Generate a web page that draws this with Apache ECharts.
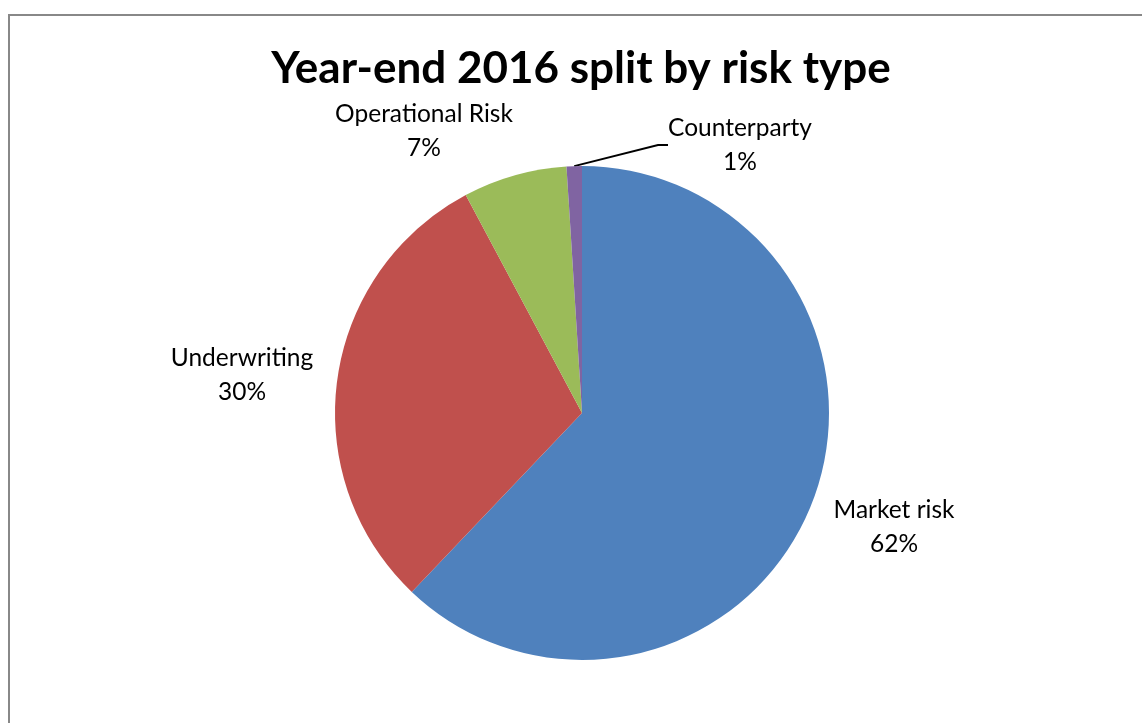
<!DOCTYPE html>
<html>
<head>
<meta charset="utf-8">
<title>Year-end 2016 split by risk type</title>
<script src="https://cdn.jsdelivr.net/npm/echarts@6/dist/echarts.min.js"></script>
<style>
  html, body { margin: 0; padding: 0; background: #fff; }
  #chart { width: 1142px; height: 723px; }
</style>
</head>
<body>
<div id="chart"></div>
<script>
// Risk categories, clockwise from 12 o'clock
const categories = ['Market risk', 'Underwriting', 'Operational Risk', 'Counterparty'];
// Share of the year-end 2016 total, in percent
const shares = [62.1, 30.1, 6.8, 1.0];
const sliceColors = ['#4F81BD', '#C0504D', '#9BBB59', '#8064A2'];
const chartTitle = 'Year-end 2016 split by risk type';

// Where each label block sits (centre of the two-line text)
const labelSpots = [
  { x: 894, y: 527 },
  { x: 242, y: 375 },
  { x: 424, y: 131 },
  { x: 740, y: 145 }
];

const FONT = 'Lato, "Open Sans", sans-serif';

const chart = echarts.init(document.getElementById('chart'), null, { renderer: 'canvas' });

chart.setOption({
  backgroundColor: '#ffffff',
  animation: false,
  title: {
    text: chartTitle,
    left: 576,
    top: 42,
    textAlign: 'center',
    textStyle: {
      fontFamily: FONT,
      fontWeight: 'bold',
      fontSize: 44,
      color: '#000000'
    }
  },
  graphic: [{
    type: 'rect',
    shape: { x: 9, y: 15, width: 1300, height: 900 },
    style: { fill: 'none', stroke: '#888888', lineWidth: 2 },
    silent: true,
    z: -1
  }],
  series: [{
    type: 'pie',
    center: [582, 413],
    radius: 247,
    startAngle: 90,
    clockwise: true,
    percentPrecision: 0,
    avoidLabelOverlap: false,
    itemStyle: { borderWidth: 0 },
    label: {
      show: true,
      position: 'outside',
      formatter: '{b}\n{d}%',
      fontFamily: FONT,
      fontSize: 24.5,
      lineHeight: 34,
      color: '#000000',
      align: 'center'
    },
    labelLine: {
      show: false,
      lineStyle: { color: '#000000', width: 2 }
    },
    labelLayout: function (params) {
      const p = labelSpots[params.dataIndex];
      return {
        x: p.x,
        y: p.y,
        align: 'center',
        verticalAlign: 'middle'
      };
    },
    data: categories.map((name, i) => ({
      name: name,
      value: shares[i],
      itemStyle: { color: sliceColors[i] },
      labelLine: { show: name === 'Counterparty', length: 10, length2: 10 }
    }))
  }]
});
</script>
</body>
</html>
